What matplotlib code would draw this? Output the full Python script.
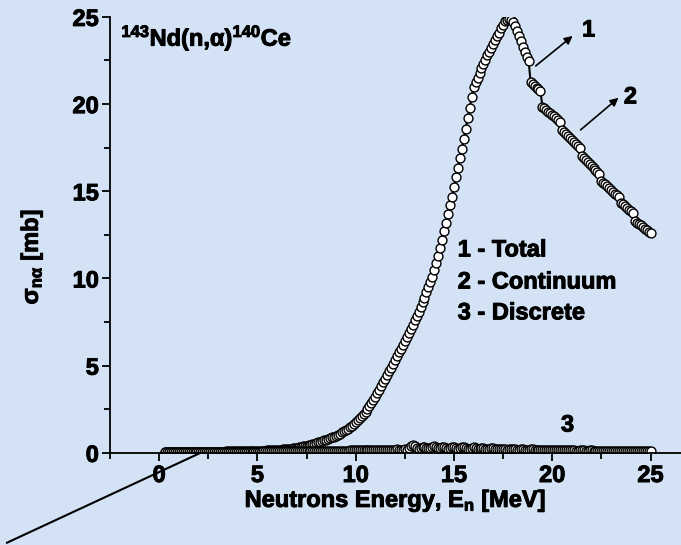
import numpy as np
import matplotlib
matplotlib.use('Agg')
from matplotlib import pyplot as plt
from matplotlib import patheffects

# neutron energy grid [MeV], 0.1 MeV step as in the calculation
energy = np.round(np.arange(3, 251) * 0.1, 1)

# total (n,alpha) cross section [mb]
total = [
    0.05, 0.05, 0.05, 0.05, 0.05, 0.05, 0.05,                      # 0.3-0.9
    0.05, 0.05, 0.05, 0.05, 0.05, 0.05, 0.05, 0.05, 0.05, 0.05,    # 1.0-1.9
    0.05, 0.05, 0.06, 0.06, 0.06, 0.06, 0.06, 0.06, 0.07, 0.07,    # 2.0-2.9
    0.07, 0.07, 0.07, 0.07, 0.08, 0.08, 0.08, 0.08, 0.08, 0.09,    # 3.0-3.9
    0.09, 0.09, 0.09, 0.10, 0.10, 0.10, 0.10, 0.11, 0.11, 0.11,    # 4.0-4.9
    0.12, 0.12, 0.12, 0.13, 0.13, 0.14, 0.14, 0.15, 0.15, 0.16,    # 5.0-5.9
    0.17, 0.18, 0.19, 0.20, 0.21, 0.22, 0.23, 0.25, 0.26, 0.28,    # 6.0-6.9
    0.30, 0.33, 0.36, 0.38, 0.40, 0.42, 0.44, 0.47, 0.50, 0.53,    # 7.0-7.9
    0.56, 0.60, 0.64, 0.68, 0.72, 0.76, 0.80, 0.84, 0.89, 0.94,    # 8.0-8.9
    0.99, 1.05, 1.11, 1.17, 1.24, 1.31, 1.38, 1.46, 1.55, 1.65,    # 9.0-9.9
    1.75, 1.86, 1.98, 2.10, 2.23, 2.37, 2.52, 2.69, 2.86, 3.04,    # 10.0-10.9
    3.22, 3.42, 3.62, 3.83, 4.04, 4.25, 4.46, 4.67, 4.88, 5.10,    # 11.0-11.9
    5.32, 5.54, 5.76, 5.98, 6.20, 6.42, 6.65, 6.88, 7.12, 7.36,    # 12.0-12.9
    7.60, 7.85, 8.10, 8.36, 8.63, 8.91, 9.20, 9.50, 9.80, 10.11,   # 13.0-13.9
    10.5, 10.9, 11.3, 11.75, 12.2, 12.7, 13.2, 13.7, 14.2, 14.7,   # 14.0-14.9
    15.25, 15.8, 16.35, 16.9, 17.45, 18.0, 18.6, 19.2, 19.8, 20.4, # 15.0-15.9
    21.0, 21.25, 21.5, 21.8, 22.05, 22.3, 22.55, 22.8, 23.0, 23.2, # 16.0-16.9
    23.45, 23.65, 23.9, 24.1, 24.35, 24.55, 24.75, 24.85, 24.9, 24.85,  # 17.0-17.9
    24.7, 24.45, 24.2, 23.9, 23.6, 23.3, 23.0, 22.7, 22.45,        # 18.0-18.8
    21.25, 21.15, 21.05, 20.95, 20.85, 20.75,                      # 18.9-19.4
    19.85, 19.76, 19.67, 19.57, 19.48, 19.38, 19.29, 19.19, 19.1, 19.0,   # 19.5-20.4
    18.5, 18.39, 18.28, 18.17, 18.06, 17.94, 17.83, 17.72, 17.61, 17.5,   # 20.5-21.4
    17.0, 16.89, 16.78, 16.67, 16.56, 16.44, 16.33, 16.22, 16.11, 16.0,   # 21.5-22.4
    15.6, 15.5, 15.39, 15.29, 15.18, 15.07, 14.97, 14.86, 14.76, 14.65,   # 22.5-23.4
    14.35, 14.25, 14.15, 14.05, 13.95, 13.85, 13.75,               # 23.5-24.1
    13.3, 13.21, 13.12, 13.04, 12.95, 12.86, 12.78, 12.69, 12.6,   # 24.2-25.0
]

# discrete-level contribution [mb]
discrete = [
    0.04, 0.04, 0.04, 0.04, 0.04, 0.04, 0.04,                      # 0.3-0.9
    0.04, 0.04, 0.04, 0.04, 0.04, 0.05, 0.05, 0.05, 0.05, 0.05,    # 1.0-1.9
    0.05, 0.05, 0.05, 0.05, 0.05, 0.05, 0.05, 0.05, 0.05, 0.05,    # 2.0-2.9
    0.05, 0.05, 0.05, 0.06, 0.06, 0.06, 0.06, 0.06, 0.06, 0.06,    # 3.0-3.9
    0.06, 0.06, 0.06, 0.06, 0.07, 0.07, 0.07, 0.07, 0.07, 0.07,    # 4.0-4.9
    0.07, 0.07, 0.07, 0.08, 0.08, 0.08, 0.08, 0.08, 0.08, 0.08,    # 5.0-5.9
    0.08, 0.08, 0.09, 0.09, 0.09, 0.09, 0.09, 0.09, 0.09, 0.09,    # 6.0-6.9
    0.09, 0.10, 0.10, 0.10, 0.10, 0.10, 0.10, 0.10, 0.11, 0.11,    # 7.0-7.9
    0.11, 0.11, 0.11, 0.11, 0.12, 0.12, 0.12, 0.12, 0.12, 0.12,    # 8.0-8.9
    0.12, 0.13, 0.13, 0.13, 0.13, 0.13, 0.13, 0.14, 0.14, 0.14,    # 9.0-9.9
    0.15, 0.17, 0.15, 0.14, 0.16, 0.18, 0.15, 0.14, 0.16, 0.17,    # 10.0-10.9
    0.15, 0.14, 0.16, 0.18, 0.16, 0.15, 0.17, 0.19, 0.17, 0.16,    # 11.0-11.9
    0.18, 0.20, 0.17, 0.16, 0.19, 0.21, 0.18, 0.30, 0.42, 0.45,    # 12.0-12.9
    0.38, 0.30, 0.25, 0.28, 0.33, 0.36, 0.30, 0.26, 0.29, 0.34,    # 13.0-13.9
    0.37, 0.31, 0.26, 0.28, 0.33, 0.35, 0.29, 0.25, 0.27, 0.32,    # 14.0-14.9
    0.34, 0.28, 0.24, 0.26, 0.31, 0.33, 0.27, 0.23, 0.25, 0.30,    # 15.0-15.9
    0.31, 0.26, 0.22, 0.24, 0.28, 0.29, 0.25, 0.21, 0.23, 0.27,    # 16.0-16.9
    0.27, 0.23, 0.20, 0.22, 0.25, 0.25, 0.21, 0.19, 0.21, 0.23,    # 17.0-17.9
    0.23, 0.20, 0.18, 0.19, 0.22, 0.22, 0.19, 0.17, 0.18, 0.20,    # 18.0-18.9
    0.20, 0.18, 0.16, 0.17, 0.19, 0.19, 0.17, 0.15, 0.16, 0.18,    # 19.0-19.9
    0.18, 0.16, 0.15, 0.15, 0.17, 0.17, 0.15, 0.14, 0.14, 0.16,    # 20.0-20.9
    0.16, 0.14, 0.13, 0.13, 0.15, 0.15, 0.14, 0.13, 0.13, 0.14,    # 21.0-21.9
    0.14, 0.13, 0.12, 0.12, 0.13, 0.13, 0.12, 0.12, 0.12, 0.12,    # 22.0-22.9
    0.12, 0.12, 0.11, 0.11, 0.12, 0.12, 0.11, 0.11, 0.11, 0.11,    # 23.0-23.9
    0.11, 0.11, 0.10, 0.10, 0.11, 0.11, 0.10, 0.10, 0.10, 0.10,    # 24.0-24.9
    0.10,                                                          # 25.0
]

legend_lines = ['1 - Total', '2 - Continuum', '3 - Discrete']

bg = '#d3e2f5'
fs = 17
plt.rcParams['font.family'] = ['Liberation Sans', 'DejaVu Sans']
plt.rcParams['font.weight'] = 'bold'
plt.rcParams['mathtext.default'] = 'regular'
heavy = [patheffects.withStroke(linewidth=0.7, foreground='black')]

fig = plt.figure(figsize=(6.81, 5.45), dpi=100, facecolor=bg)
ax = fig.add_axes([0.1615, 0.169, 0.8385, 0.8])
ax.set_facecolor(bg)

ax.plot(energy, total, '-o', color='black', lw=1.5, ms=6.4,
        mfc='white', mec='black', mew=1.0)
ax.plot(energy, discrete, '-o', color='black', lw=1.5, ms=6.4,
        mfc='white', mec='black', mew=1.0)

ax.set_xlim(-2.44, 26.55)
ax.set_ylim(0, 25)
ax.set_xticks([0, 5, 10, 15, 20, 25])
ax.set_xticks(np.arange(-2.5, 26, 2.5), minor=True)
ax.set_yticks([0, 5, 10, 15, 20, 25])
ax.set_yticks(np.arange(2.5, 25, 5), minor=True)
for s in ['top', 'right']:
    ax.spines[s].set_visible(False)
for s in ['left', 'bottom']:
    ax.spines[s].set_linewidth(1.3)
ax.tick_params(which='major', direction='out', length=6, width=1.3,
               labelsize=fs, pad=2)
ax.tick_params(which='minor', direction='out', length=4, width=1.3)
for lab in ax.get_xticklabels() + ax.get_yticklabels():
    lab.set_fontweight('bold')
    lab.set_path_effects(heavy)

ax.set_xlabel('Neutrons Energy, E$_{n}$ [MeV]', fontsize=fs, fontweight='bold',
              labelpad=0, path_effects=heavy)
ax.set_ylabel('σ$_{nα}$ [mb]', fontsize=fs, fontweight='bold', path_effects=heavy)
ax.yaxis.set_label_coords(-0.114, 0.45)

ax.text(-1.93, 23.35, '$^{143}$Nd(n,α)$^{140}$Ce', fontsize=fs,
        fontweight='bold', va='baseline', ha='left', path_effects=heavy)

for i, txt in enumerate(legend_lines):
    ax.text(15.19, [11.64, 9.8, 8.03][i], txt, fontsize=fs,
            fontweight='bold', va='center', ha='left', path_effects=heavy)

ax.annotate('', xy=(21.04, 23.91), xytext=(19.16, 22.19),
            arrowprops=dict(arrowstyle='-|>', color='black', lw=1.2,
                            mutation_scale=12, shrinkA=0, shrinkB=0))
ax.annotate('', xy=(23.37, 20.36), xytext=(21.44, 18.52),
            arrowprops=dict(arrowstyle='-|>', color='black', lw=1.2,
                            mutation_scale=12, shrinkA=0, shrinkB=0))
ax.text(21.85, 24.25, '1', fontsize=fs, fontweight='bold', ha='center',
        va='center', path_effects=heavy)
ax.text(23.98, 20.41, '2', fontsize=fs, fontweight='bold', ha='center',
        va='center', path_effects=heavy)
ax.text(20.78, 1.6, '3', fontsize=fs, fontweight='bold', ha='center',
        va='center', path_effects=heavy)

# pointer line running off to the lower left corner
ax.annotate('', xy=(2.1, 0), xytext=(0.01, 0.004), textcoords='figure fraction',
            arrowprops=dict(arrowstyle='-', color='black', lw=1.5,
                            shrinkA=0, shrinkB=0))

fig.savefig('out.png', dpi=100, facecolor=bg)
